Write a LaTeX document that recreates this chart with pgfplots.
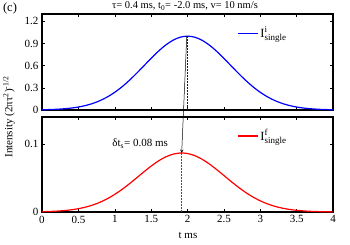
\documentclass[border=0pt]{standalone}
\usepackage{fontspec}
\setmainfont{Liberation Serif}
\usepackage{amsmath}
\usepackage{pgfplots}
\pgfplotsset{compat=1.18}
\newcommand{\legI}[1]{\fontsize{12.5}{14}\selectfont I\rlap{\raisebox{5pt}{\fontsize{9}{10}\selectfont #1}}\raisebox{-3pt}{\fontsize{9}{10}\selectfont single}}
\begin{document}
\fontsize{10.5}{12}\selectfont
\begin{tikzpicture}[x=1pt,y=1pt]
\useasboundingbox (0,0) rectangle (350,245);
\pgfplotsset{
  myax/.style={
    scale only axis, width=291pt,
    xmin=0, xmax=4,
    xtick={0,0.5,...,4},
    tick align=inside,
    major tick length=3pt,
    axis line style={line width=1.3pt},
    every tick/.style={black, line width=0.5pt},
    /pgf/number format/assume math mode=true,
    tick label style={font=\fontsize{11}{12}\selectfont},
    legend style={draw=none, fill=none, inner sep=0pt},
    legend cell align=left,
    legend image code/.code={\draw[##1] (0pt,0pt) -- (20pt,0pt);},
    clip=false,
  }
}
\begin{axis}[myax, at={(42pt,135pt)}, anchor=south west, height=96pt,
  ymin=0, ymax=1.3, ytick={0,0.3,0.6,0.9,1.2},
  yticklabels={0,0.3,0.6,0.9,1.2},
  xticklabels={},
  legend style={at={(0.67,0.80)}, anchor=west}]
\addplot[color=blue, line width=1.2pt, smooth] coordinates {
(0,0.00330)(0.1,0.00576)(0.2,0.00977)(0.3,0.01610)(0.4,0.02580)(0.5,0.04018)
(0.6,0.06081)(0.7,0.08945)(0.8,0.12782)(0.9,0.17754)(1.0,0.23965)(1.1,0.31439)
(1.2,0.40081)(1.3,0.49659)(1.4,0.59792)(1.5,0.69968)(1.6,0.79567)(1.7,0.87935)
(1.8,0.94446)(1.9,0.98582)(2.0,1.0)(2.1,0.98582)(2.2,0.94446)(2.3,0.87935)
(2.4,0.79567)(2.5,0.69968)(2.6,0.59792)(2.7,0.49659)(2.8,0.40081)(2.9,0.31439)
(3.0,0.23965)(3.1,0.17754)(3.2,0.12782)(3.3,0.08945)(3.4,0.06081)(3.5,0.04018)
(3.6,0.02580)(3.7,0.01610)(3.8,0.00977)(3.9,0.00576)(4.0,0.00330)};
\addlegendentry{\legI{i}}
\addplot[color=blue, line width=1.5pt, dash pattern=on 1.5pt off 1.5pt, forget plot] coordinates {(2.0,0)(2.0,1.0)};
\coordinate (A) at (axis cs:1.99,1.0);
\end{axis}
\begin{axis}[myax, at={(42pt,33pt)}, anchor=south west, height=95pt,
  ymin=0, ymax=0.14, ytick={0,0.1},
  yticklabels={0,0.1},
  xticklabels={0,0.5,1,1.5,2,2.5,3,3.5,4},
  legend style={at={(0.67,0.80)}, anchor=west}]
\addplot[color=red, line width=1.2pt, smooth] coordinates {
(0,0.000449)(0.1,0.000767)(0.2,0.001270)(0.3,0.002048)(0.4,0.003207)(0.5,0.004881)
(0.6,0.007220)(0.7,0.010377)(0.8,0.014497)(0.9,0.019682)(1.0,0.025965)(1.1,0.033292)
(1.2,0.041483)(1.3,0.050239)(1.4,0.059126)(1.5,0.067620)(1.6,0.075160)(1.7,0.081188)
(1.8,0.085229)(1.9,0.086950)(1.92,0.087)(2.0,0.086208)(2.1,0.083065)(2.2,0.077782)
(2.3,0.070782)(2.4,0.062601)(2.5,0.053802)(2.6,0.044941)(2.7,0.036481)(2.8,0.028778)
(2.9,0.022063)(3.0,0.016439)(3.1,0.011904)(3.2,0.008377)(3.3,0.005728)(3.4,0.003806)
(3.5,0.002459)(3.6,0.001543)(3.7,0.000942)(3.8,0.000558)(3.9,0.000322)(4.0,0.000180)};
\addlegendentry{\legI{f}}
\addplot[color=red, line width=1.5pt, dash pattern=on 1.5pt off 1.5pt, forget plot] coordinates {(1.92,0)(1.92,0.087)};
\coordinate (B) at (axis cs:1.92,0.087);
\node[font=\fontsize{11}{12}\selectfont] at (axis cs:1.35,0.101) {δt\textsubscript{s}= 0.08 ms};
\end{axis}
\draw[->, >=stealth, line width=0.5pt] (A) -- (B);
\node at (185,239) {τ= 0.4 ms, t\textsubscript{0}= -2.0 ms, v= 10 nm/s};
\node[font=\fontsize{12.5}{14}\selectfont] at (10,236) {(c)};
\node[rotate=90, font=\fontsize{11}{12}\selectfont] at (9,128) {Intensity (2πτ\textsuperscript{2})\textsuperscript{-1/2}};
\node[font=\fontsize{11}{12}\selectfont] at (188,10) {t ms};
\end{tikzpicture}
\end{document}
